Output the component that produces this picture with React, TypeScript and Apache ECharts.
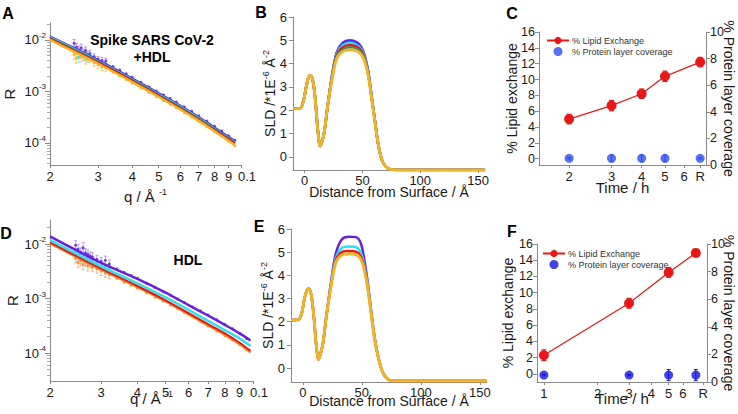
import React, { useEffect, useRef } from "react";
import * as echarts from "echarts";

const FONT = "'Liberation Sans', Arial, Helvetica, sans-serif";
const AX = "#8a8a8a";
const TXT = "#1a1a1a";

const C_PURPLE = "#6a1ee0";
const C_BLUE = "#2f55ff";
const C_CYAN = "#2ee0f0";
const C_GREEN = "#2f8f5a";
const C_RED = "#e81818";
const C_GOLD = "#f0b42a";
const C_ORANGE = "#f5861e";

// ---------- Panels A / D : reflectivity ----------
const qTicks = [0.02, 0.03, 0.04, 0.05, 0.06, 0.07, 0.08, 0.09, 0.1];
const qTickLabels = ["2", "3", "4", "5", "6", "7", "8", "9", "0.1"];
const rDecades = [-4, -3, -2];

const qFitA = [0.02, 0.025, 0.03, 0.04, 0.05, 0.06, 0.07, 0.08, 0.09, 0.095];
const fitPurpleA = [1.18e-2, 6.7e-3, 4.1e-3, 1.8e-3, 9.3e-4, 5.3e-4, 3.2e-4, 2.0e-4, 1.32e-4, 1.08e-4];
const fitBlueA = [1.15e-2, 6.5e-3, 4.0e-3, 1.75e-3, 9.0e-4, 5.15e-4, 3.1e-4, 1.95e-4, 1.28e-4, 1.05e-4];
const fitCyanA = [1.13e-2, 6.4e-3, 3.9e-3, 1.72e-3, 8.8e-4, 5.05e-4, 3.05e-4, 1.9e-4, 1.25e-4, 1.03e-4];
const fitGreenA = [1.1e-2, 6.2e-3, 3.8e-3, 1.67e-3, 8.6e-4, 4.9e-4, 2.95e-4, 1.85e-4, 1.22e-4, 1.0e-4];
const fitRedA = [1.07e-2, 6.0e-3, 3.7e-3, 1.62e-3, 8.3e-4, 4.75e-4, 2.85e-4, 1.8e-4, 1.18e-4, 0.97e-4];
const fitGoldA = [1.0e-2, 5.6e-3, 3.45e-3, 1.52e-3, 7.8e-4, 4.45e-4, 2.68e-4, 1.68e-4, 1.1e-4, 0.9e-4];

const qData = [0.0245, 0.025, 0.0255, 0.026, 0.0265, 0.027, 0.0275, 0.028, 0.029, 0.03, 0.031, 0.032, 0.034, 0.036, 0.038, 0.04, 0.043, 0.046, 0.049, 0.052, 0.055, 0.058, 0.062, 0.066, 0.07, 0.075, 0.08, 0.085, 0.09, 0.095];
const dataPurpleA = [8.6e-3, 7.2e-3, 6.4e-3, 7.0e-3, 5.6e-3, 6.2e-3, 5.0e-3, 5.4e-3, 4.7e-3, 4.2e-3, 4.0e-3, 3.9e-3, 3.05e-3, 2.6e-3, 2.2e-3, 1.88e-3, 1.5e-3, 1.23e-3, 1.02e-3, 8.6e-4, 7.3e-4, 6.2e-4, 5.0e-4, 4.1e-4, 3.35e-4, 2.65e-4, 2.1e-4, 1.7e-4, 1.38e-4, 1.12e-4];
const dataCyanA = [6.8e-3, 5.8e-3, 4.6e-3, 6.0e-3, 4.8e-3, 5.4e-3, 4.5e-3, 5.0e-3, 4.2e-3, 3.8e-3, 3.5e-3, 3.4e-3];
const dataGoldA = [5.2e-3, 4.4e-3, 5.5e-3, 4.6e-3, 5.0e-3, 4.2e-3, 4.6e-3, 4.3e-3, 3.7e-3, 3.3e-3, 3.0e-3, 2.85e-3, 2.35e-3, 2.0e-3, 1.7e-3, 1.45e-3, 1.17e-3, 9.5e-4, 7.9e-4, 6.6e-4, 5.6e-4, 4.8e-4, 3.85e-4, 3.15e-4, 2.6e-4, 2.05e-4, 1.65e-4, 1.35e-4, 1.08e-4, 0.87e-4];
const errPurpleA = [1.6e-3, 1.3e-3, 1.2e-3, 1.3e-3, 1.0e-3, 1.1e-3, 0.9e-3, 0.9e-3, 0.7e-3, 0.6e-3, 0.55e-3, 0.5e-3];
const errCyanA = [1.2e-3, 1.0e-3, 0.9e-3, 1.1e-3, 0.9e-3, 1.0e-3, 0.8e-3, 0.8e-3, 0.7e-3, 0.6e-3, 0.55e-3, 0.5e-3];
const errGoldA = [1.0e-3, 0.9e-3, 1.0e-3, 0.8e-3, 0.9e-3, 0.8e-3, 0.8e-3, 0.7e-3, 0.6e-3, 0.5e-3, 0.45e-3, 0.4e-3];

const qFitD = [0.02, 0.025, 0.03, 0.04, 0.05, 0.06, 0.07, 0.08, 0.09, 0.098];
const fitPurpleD = [1.38e-2, 7.4e-3, 4.5e-3, 2.3e-3, 1.29e-3, 7.6e-4, 4.9e-4, 3.3e-4, 2.3e-4, 1.7e-4];
const fitCyanD = [1.18e-2, 6.4e-3, 3.9e-3, 1.9e-3, 1.05e-3, 6.2e-4, 3.9e-4, 2.65e-4, 1.85e-4, 1.35e-4];
const fitRedD = [1.07e-2, 5.8e-3, 3.55e-3, 1.7e-3, 9.3e-4, 5.4e-4, 3.4e-4, 2.3e-4, 1.55e-4, 1.1e-4];
const fitOrangeD = [1.02e-2, 5.5e-3, 3.35e-3, 1.6e-3, 8.8e-4, 5.1e-4, 3.2e-4, 2.15e-4, 1.45e-4, 1.03e-4];

const dataPurpleD = [9.5e-3, 8.0e-3, 7.0e-3, 8.5e-3, 6.8e-3, 6.5e-3, 6.0e-3, 5.8e-3, 5.2e-3, 4.8e-3, 5.0e-3, 4.3e-3, 3.5e-3, 3.0e-3, 2.65e-3, 2.35e-3, 1.9e-3, 1.6e-3, 1.35e-3, 1.15e-3, 9.8e-4, 8.5e-4, 7.0e-4, 5.9e-4, 5.0e-4, 4.1e-4, 3.35e-4, 2.8e-4, 2.3e-4, 1.85e-4];
const dataCyanD = [7.0e-3, 6.0e-3, 5.4e-3, 6.2e-3, 5.0e-3, 5.6e-3, 4.8e-3, 4.6e-3, 4.4e-3, 4.0e-3, 3.8e-3, 3.6e-3];
const dataOrangeD = [5.5e-3, 4.6e-3, 5.0e-3, 4.2e-3, 4.8e-3, 4.0e-3, 4.4e-3, 3.8e-3, 3.5e-3, 3.2e-3, 2.95e-3, 2.75e-3, 2.35e-3, 2.0e-3, 1.75e-3, 1.55e-3, 1.27e-3, 1.06e-3, 9.0e-4, 7.6e-4, 6.5e-4, 5.6e-4, 4.6e-4, 3.8e-4, 3.15e-4, 2.55e-4, 2.1e-4, 1.72e-4, 1.42e-4, 1.15e-4];
const errPurpleD = [2.0e-3, 1.8e-3, 1.5e-3, 2.2e-3, 1.4e-3, 1.3e-3, 1.2e-3, 1.1e-3, 1.0e-3, 0.9e-3, 1.0e-3, 0.8e-3];
const errCyanD = [1.3e-3, 1.1e-3, 1.0e-3, 1.2e-3, 1.0e-3, 1.0e-3, 0.9e-3, 0.8e-3, 0.8e-3, 0.7e-3, 0.6e-3, 0.6e-3];
const errOrangeD = [1.0e-3, 0.9e-3, 1.0e-3, 0.8e-3, 0.9e-3, 0.8e-3, 0.8e-3, 0.7e-3, 0.6e-3, 0.55e-3, 0.5e-3, 0.45e-3];

// ---------- Panels B / E : SLD profiles ----------
const sldX = [-10, -4, -1, 1, 3, 5, 7, 9, 11, 12.3, 13.3, 15, 17, 20, 24, 28, 33, 39, 45, 49, 52, 55, 58, 61, 64, 67, 70, 74, 80, 156];
const sldTicksX = [0, 50, 100, 150];
const sldTicksY = [0, 1, 2, 3, 4, 5, 6];

const sldLeftB = [2.07, 2.08, 2.4, 2.9, 3.35, 3.5, 3.3, 2.6, 1.4, 0.75, 0.47, 0.65, 1.05, 2.2];
const sldTailB = [0.45, -0.15, -0.4, -0.53, -0.56, -0.56];
const midPurpleB = [3.58, 4.5, 4.9, 5.0, 4.92, 4.72, 4.35, 3.68, 2.6, 1.5];
const midBlueB = [3.55, 4.47, 4.84, 4.94, 4.86, 4.67, 4.31, 3.65, 2.58, 1.49];
const midCyanB = [3.52, 4.43, 4.78, 4.88, 4.8, 4.62, 4.27, 3.62, 2.56, 1.48];
const midRedB = [3.5, 4.38, 4.7, 4.8, 4.73, 4.56, 4.22, 3.58, 2.54, 1.47];
const midGreenB = [3.45, 4.32, 4.6, 4.7, 4.64, 4.48, 4.16, 3.54, 2.52, 1.46];
const midGoldB = [3.4, 4.25, 4.52, 4.6, 4.55, 4.4, 4.1, 3.5, 2.5, 1.45];

const sldLeftE = [2.07, 2.08, 2.35, 2.9, 3.3, 3.42, 3.2, 2.4, 1.2, 0.6, 0.37, 0.6, 1.05, 2.25];
const sldTailE = [0.45, -0.1, -0.38, -0.53, -0.56, -0.56];
const midPurpleE = [3.75, 4.95, 5.55, 5.67, 5.65, 5.4, 4.7, 3.7, 2.42, 1.26];
const midCyanE = [3.65, 4.75, 5.18, 5.25, 5.22, 5.0, 4.45, 3.58, 2.37, 1.24];
const midRedE = [3.6, 4.65, 5.0, 5.05, 5.02, 4.82, 4.33, 3.5, 2.33, 1.22];
const midGoldE = [3.55, 4.55, 4.88, 4.93, 4.9, 4.7, 4.25, 3.45, 2.3, 1.2];

// ---------- Panels C / F : exchange vs time ----------
const timeTicksC = [2, 3, 4, 5, 6, 7];
const timeLabelsC = ["2", "3", "4", "5", "6", "R"];
const timeC = [2, 3, 4, 5, 7];
const lipidC = [5.0, 6.7, 8.2, 10.4, 12.2];
const lipidErrC = [0.6, 0.65, 0.6, 0.65, 0.6];
const proteinC = [0.5, 0.5, 0.5, 0.5, 0.5];
const proteinErrC = [0.05, 0.25, 0.25, 0.25, 0.05];

const timeTicksF = [1, 2, 3, 4, 5, 6, 7.8];
const timeLabelsF = ["1", "2", "3", "4", "5", "6", "R"];
const timeF = [1, 3, 5, 7.1];
const lipidF = [2.3, 8.7, 12.5, 14.9];
const lipidErrF = [0.65, 0.6, 0.6, 0.45];
const proteinF = [0.5, 0.5, 0.5, 0.5];
const proteinErrF = [0.05, 0.05, 0.4, 0.4];

const leftTicks = [0, 2, 4, 6, 8, 10, 12, 14, 16];
const rightTicks = [0, 2, 4, 6, 8, 10];

const LIPID = "% Lipid Exchange";
const PROT = "% Protein layer coverage";

// ---------- helpers ----------
const lg = Math.log10;
const nearest = (arr: number[], v: number) => {
  let bi = 0;
  arr.forEach((a, i) => {
    if (Math.abs(a - v) < Math.abs(arr[bi] - v)) bi = i;
  });
  return bi;
};

const labelBase = { color: TXT, fontFamily: FONT };
const supRich = (size: number) => ({
  n: { fontSize: size, fontFamily: FONT, color: TXT, lineHeight: size + 4 },
  s: { fontSize: Math.round(size * 0.62), fontFamily: FONT, color: TXT, verticalAlign: "top", lineHeight: Math.round(size * 0.62) + 1 },
});

function errRender(color: string, cap: number, width: number) {
  return (params: any, api: any) => {
    const x = api.value(0);
    const a = api.coord([x, api.value(1)]);
    const b = api.coord([x, api.value(2)]);
    const st = { stroke: color, lineWidth: width };
    const kids: any[] = [{ type: "line", shape: { x1: a[0], y1: a[1], x2: b[0], y2: b[1] }, style: st }];
    if (cap > 0) {
      kids.push({ type: "line", shape: { x1: a[0] - cap, y1: a[1], x2: a[0] + cap, y2: a[1] }, style: st });
      kids.push({ type: "line", shape: { x1: b[0] - cap, y1: b[1], x2: b[0] + cap, y2: b[1] }, style: st });
    }
    return { type: "group", children: kids };
  };
}

function logFit(xs: number[], ys: number[], color: string, ai: number, yi: number, w = 2) {
  return {
    type: "line", xAxisIndex: ai, yAxisIndex: yi, silent: true, showSymbol: false, smooth: 0.3,
    data: xs.map((x, i) => [lg(x), lg(ys[i])]), lineStyle: { color, width: w }, itemStyle: { color }, z: 4,
  };
}
function logPts(ys: number[], color: string, ai: number, yi: number) {
  return {
    type: "scatter", xAxisIndex: ai, yAxisIndex: yi, silent: true, symbol: "circle", symbolSize: 3,
    data: ys.map((y, i) => [lg(qData[i]), lg(y)]), itemStyle: { color, opacity: 0.85 }, z: 3,
  };
}
function logErr(ys: number[], errs: number[], color: string, ai: number, yi: number) {
  return {
    type: "custom", xAxisIndex: ai, yAxisIndex: yi, silent: true, z: 2,
    renderItem: errRender(color, 1.5, 0.8),
    data: errs.map((e, i) => [lg(qData[i]), lg(ys[i] - e), lg(ys[i] + e)]),
    encode: { x: 0, y: [1, 2] },
  };
}
function sldLine(left: number[], mid: number[], tail: number[], color: string, ai: number, yi: number, w = 2.5) {
  const ys = [...left, ...mid, ...tail];
  return {
    type: "line", xAxisIndex: ai, yAxisIndex: yi, silent: true, showSymbol: false, smooth: 0.35,
    data: sldX.map((x, i) => [x, ys[i]]), lineStyle: { color, width: w }, itemStyle: { color },
  };
}

function xQ(gi: number, nameGap: number) {
  const tv = qTicks.map(lg);
  return {
    type: "value", gridIndex: gi, min: lg(0.02), max: lg(0.1),
    axisLine: { show: true, onZero: false, lineStyle: { color: AX } },
    axisTick: { show: true, customValues: tv, length: 3, lineStyle: { color: AX } },
    axisLabel: {
      customValues: tv,
      formatter: (v: number) => {
        const t = qTickLabels[nearest(tv, v)];
        return t === "0.1" ? `{r|${t}}` : `{d|${t}}`;
      },
      rich: {
        d: { fontSize: 13, fontFamily: FONT, color: TXT },
        r: { fontSize: 13, fontFamily: FONT, color: TXT, padding: [0, 0, 0, 12] },
      },
      margin: 5,
    },
    splitLine: { show: false },
    name: "{n|q / Å }{s|-1}", nameLocation: "middle", nameGap, nameMoveOverlap: false,
    nameTextStyle: { rich: supRich(15) },
  };
}
function yR(gi: number, min: number, max: number, nameGap: number) {
  return {
    type: "value", gridIndex: gi, min, max, position: "left",
    axisLine: { show: true, onZero: false, lineStyle: { color: AX } },
    axisTick: { show: true, customValues: rDecades, length: 5, lineStyle: { color: AX } },
    axisLabel: {
      customValues: rDecades, margin: 4,
      formatter: (v: number) => `{n|10}{s|${Math.round(v)}}`,
      rich: supRich(13),
    },
    splitLine: { show: false },
    name: "R", nameLocation: "middle", nameGap, nameMoveOverlap: false,
    nameTextStyle: { ...labelBase, fontSize: 15 },
  };
}
function yMinor(gi: number, min: number, max: number) {
  const vals: number[] = [];
  for (let n = -6; n <= -1; n++) for (let k = 2; k <= 9; k++) {
    const v = lg(k * Math.pow(10, n));
    if (v > min && v < max) vals.push(v);
  }
  return {
    type: "value", gridIndex: gi, min, max, position: "left",
    axisLine: { show: false }, axisLabel: { show: false }, splitLine: { show: false },
    axisTick: { show: true, customValues: vals, length: 3, lineStyle: { color: "#a8a8a8" } },
  };
}
function xSld(gi: number, nameGap: number) {
  return {
    type: "value", gridIndex: gi, min: -10, max: 156,
    axisLine: { show: true, onZero: false, lineStyle: { color: AX } },
    axisTick: { show: true, customValues: sldTicksX, length: 3, lineStyle: { color: AX } },
    axisLabel: { customValues: sldTicksX, ...labelBase, fontSize: 13, margin: 4 },
    splitLine: { show: false },
    name: "Distance from Surface / Å", nameLocation: "middle", nameGap, nameMoveOverlap: false,
    nameTextStyle: { ...labelBase, fontSize: 14 },
  };
}
function ySld(gi: number, min: number, nameGap: number) {
  return {
    type: "value", gridIndex: gi, min, max: 6,
    axisLine: { show: true, onZero: false, lineStyle: { color: AX } },
    axisTick: { show: true, customValues: sldTicksY, length: 4, lineStyle: { color: AX } },
    axisLabel: { customValues: sldTicksY, ...labelBase, fontSize: 13, margin: 6 },
    splitLine: { show: false },
    name: "{n|SLD /*1E}{s|-6}{n| Å}{s|-2}", nameLocation: "middle", nameGap, nameMoveOverlap: false,
    nameTextStyle: { rich: supRich(14) },
  };
}
function xTime(gi: number, min: number, max: number, ticks: number[], labels: string[], nameGap: number) {
  const tv = ticks.map(lg);
  return {
    type: "value", gridIndex: gi, min: lg(min), max: lg(max),
    axisLine: { show: true, onZero: false, lineStyle: { color: AX } },
    axisTick: { show: true, customValues: tv, length: 3, lineStyle: { color: AX } },
    axisLabel: { customValues: tv, formatter: (v: number) => labels[nearest(tv, v)], ...labelBase, fontSize: 13, margin: 5 },
    splitLine: { show: false },
    name: "Time / h", nameLocation: "middle", nameGap, nameMoveOverlap: false,
    nameTextStyle: { ...labelBase, fontSize: 15 },
  };
}
function yPct(gi: number, min: number, max: number, ticks: number[], name: string, position: string, nameGap: number, nameRotate?: number) {
  const o: any = {
    type: "value", gridIndex: gi, min, max, position,
    axisLine: { show: true, onZero: false, lineStyle: { color: AX } },
    axisTick: { show: true, customValues: ticks, length: 4, lineStyle: { color: AX } },
    axisLabel: { customValues: ticks, ...labelBase, fontSize: 12.5, margin: 4 },
    splitLine: { show: false },
    name, nameLocation: "middle", nameGap, nameMoveOverlap: false,
    nameTextStyle: { ...labelBase, fontSize: 14 },
  };
  if (nameRotate !== undefined) o.nameRotate = nameRotate;
  return o;
}
function lipidSeries(ts: number[], vals: number[], errs: number[], ai: number, yi: number) {
  return [
    {
      type: "custom", xAxisIndex: ai, yAxisIndex: yi, silent: true, z: 3,
      renderItem: errRender(C_RED, 2.5, 1.2),
      data: ts.map((t, i) => [lg(t), vals[i] - errs[i], vals[i] + errs[i]]),
      encode: { x: 0, y: [1, 2] },
    },
    {
      name: LIPID, type: "line", xAxisIndex: ai, yAxisIndex: yi, silent: true, z: 4,
      symbol: "circle", symbolSize: 10, data: ts.map((t, i) => [lg(t), vals[i]]),
      lineStyle: { color: C_RED, width: 1.2 }, itemStyle: { color: C_RED },
    },
  ];
}
function proteinSeries(name: string, ts: number[], vals: number[], errs: number[], color: string, ai: number, yi: number) {
  return [
    {
      type: "custom", xAxisIndex: ai, yAxisIndex: yi, silent: true, z: 3,
      renderItem: errRender(color, 2, 1),
      data: ts.map((t, i) => [lg(t), vals[i] - errs[i], vals[i] + errs[i]]),
      encode: { x: 0, y: [1, 2] },
    },
    {
      name, type: "scatter", xAxisIndex: ai, yAxisIndex: yi, silent: true, z: 4,
      symbol: "circle", symbolSize: 9, data: ts.map((t, i) => [lg(t), vals[i]]),
      itemStyle: { color },
    },
  ];
}

function buildOption(): any {
  const grid = (left: number, top: number, width: number, height: number) => ({ left, top, width, height, containLabel: false, outerBoundsMode: "none" });
  const letter = (t: string, x: number, y: number) => ({
    type: "text", x, y, silent: true,
    style: { text: t, fontSize: 16, fontWeight: "bold", fontFamily: FONT, fill: "#000", align: "center", verticalAlign: "middle" },
  });
  const bold = (t: string, x: number, y: number) => ({
    type: "text", x, y, silent: true,
    style: { text: t, fontSize: 14, fontWeight: "bold", fontFamily: FONT, fill: "#000", align: "center", verticalAlign: "middle" },
  });
  const legend = (left: number, top: number, protName: string) => ({
    left, top, orient: "vertical", itemWidth: 22, itemHeight: 9, itemGap: 2, selectedMode: false,
    data: [LIPID, protName], textStyle: { fontSize: 9, color: "#333", fontFamily: FONT, padding: [0, 0, 0, -2] },
  });

  return {
    animation: false,
    backgroundColor: "#ffffff",
    grid: [
      grid(50, 23, 191, 142), // A
      grid(293, 17, 192, 153), // B
      grid(539, 32, 167, 133), // C
      grid(50, 220, 203, 161), // D
      grid(291, 229, 196, 153), // E
      grid(537, 244, 170, 138), // F
    ],
    xAxis: [
      xQ(0, 22),
      xSld(1, 15),
      xTime(2, 1.5, 7.4, timeTicksC, timeLabelsC, 15),
      xQ(3, 8),
      xSld(4, 12),
      xTime(5, 0.915, 8.2, timeTicksF, timeLabelsF, 9),
    ],
    yAxis: [
      yR(0, -4.43, -1.67, 33), // 0
      yMinor(0, -4.43, -1.67), // 1
      ySld(1, -0.56, 14), // 2
      yPct(2, -0.8, 16, leftTicks, "% Lipid exchange", "left", 20), // 3
      yPct(2, 0, 10, rightTicks, "% Protein layer coverage", "right", 16, -90), // 4
      yR(3, -4.51, -1.56, 30), // 5
      yMinor(3, -4.51, -1.56), // 6
      ySld(4, -0.6, 14), // 7
      yPct(5, -1.0, 16, leftTicks, "% Lipid exchange", "left", 22), // 8
      yPct(5, 0, 10, rightTicks, "% Protein layer coverage", "right", 15, -90), // 9
    ],
    legend: [legend(541, 31, PROT), legend(537, 244, PROT + " ")],
    graphic: [
      letter("A", 8, 13), letter("B", 261, 12), letter("C", 512, 13),
      letter("D", 6, 233), letter("E", 259, 226), letter("F", 512, 231),
      bold("Spike SARS CoV-2", 152, 40), bold("+HDL", 152, 57), bold("HDL", 188, 260),
    ],
    series: [
      // A
      logErr(dataPurpleA, errPurpleA, "#b07ae8", 0, 0),
      logErr(dataCyanA, errCyanA, "#7fe0ea", 0, 0),
      logErr(dataGoldA, errGoldA, "#f3c565", 0, 0),
      logPts(dataPurpleA, C_PURPLE, 0, 0),
      logPts(dataCyanA, C_CYAN, 0, 0),
      logPts(dataGoldA, C_GOLD, 0, 0),
      logFit(qFitA, fitPurpleA, C_PURPLE, 0, 0),
      logFit(qFitA, fitBlueA, C_BLUE, 0, 0),
      logFit(qFitA, fitCyanA, C_CYAN, 0, 0),
      logFit(qFitA, fitGreenA, C_GREEN, 0, 0),
      logFit(qFitA, fitRedA, C_RED, 0, 0),
      logFit(qFitA, fitGoldA, C_GOLD, 0, 0, 2.5),
      // B
      sldLine(sldLeftB, midPurpleB, sldTailB, C_PURPLE, 1, 2),
      sldLine(sldLeftB, midBlueB, sldTailB, C_BLUE, 1, 2),
      sldLine(sldLeftB, midCyanB, sldTailB, C_CYAN, 1, 2),
      sldLine(sldLeftB, midRedB, sldTailB, C_RED, 1, 2),
      sldLine(sldLeftB, midGreenB, sldTailB, C_GREEN, 1, 2),
      sldLine(sldLeftB, midGoldB, sldTailB, C_GOLD, 1, 2, 3),
      // C
      ...lipidSeries(timeC, lipidC, lipidErrC, 2, 3),
      ...proteinSeries(PROT, timeC, proteinC, proteinErrC, "#2a4ef2", 2, 4),
      // D
      logErr(dataPurpleD, errPurpleD, "#b08ae8", 3, 5),
      logErr(dataCyanD, errCyanD, "#7fe0ea", 3, 5),
      logErr(dataOrangeD, errOrangeD, "#f5a870", 3, 5),
      logPts(dataPurpleD, C_PURPLE, 3, 5),
      logPts(dataCyanD, C_CYAN, 3, 5),
      logPts(dataOrangeD, C_ORANGE, 3, 5),
      logFit(qFitD, fitOrangeD, C_ORANGE, 3, 5, 2),
      logFit(qFitD, fitRedD, C_RED, 3, 5, 2),
      logFit(qFitD, fitCyanD, C_CYAN, 3, 5, 2.5),
      logFit(qFitD, fitPurpleD, C_PURPLE, 3, 5, 2.5),
      // E
      sldLine(sldLeftE, midPurpleE, sldTailE, C_PURPLE, 4, 7),
      sldLine(sldLeftE, midCyanE, sldTailE, C_CYAN, 4, 7),
      sldLine(sldLeftE, midRedE, sldTailE, C_RED, 4, 7),
      sldLine(sldLeftE, midGoldE, sldTailE, C_GOLD, 4, 7, 3),
      // F
      ...lipidSeries(timeF, lipidF, lipidErrF, 5, 8),
      ...proteinSeries(PROT + " ", timeF, proteinF, proteinErrF, "#1414de", 5, 9),
    ],
  };
}

export default function App() {
  const ref = useRef<HTMLDivElement>(null);
  useEffect(() => {
    if (!ref.current) return;
    const chart = echarts.init(ref.current, null, { renderer: "svg" });
    chart.setOption(buildOption());
    return () => chart.dispose();
  }, []);
  return (
    <div
      ref={ref}
      style={{ position: "fixed", left: 0, top: 0, width: 738, height: 414, background: "#fff" }}
    />
  );
}
